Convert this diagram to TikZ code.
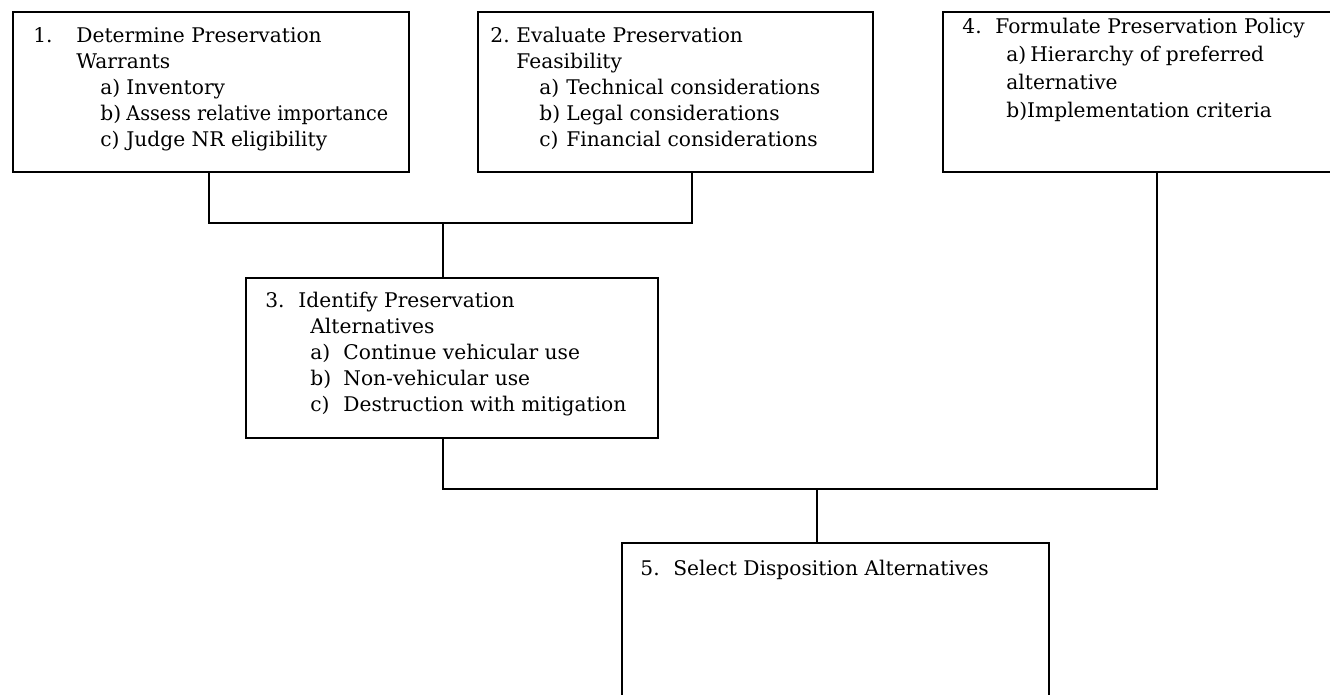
\documentclass[tikz,border=0pt]{standalone}
\usepackage{fontspec}
\setmainfont{DejaVu Serif}
\newcommand\lbl[2]{\makebox[#1][l]{#2}}
\newcommand\boxfont{\fontsize{10.1}{13}\selectfont}
\newcommand\boxfontb{\fontsize{10.1}{14}\selectfont}
\tikzset{
  box/.style={draw, line width=1pt, inner sep=0pt, anchor=north west},
  txt/.style={inner sep=0pt, anchor=base west, font=\boxfont},
  link/.style={draw, line width=1pt}
}
\begin{document}
\begin{tikzpicture}[x=0.5pt,y=-0.5pt]
\useasboundingbox (0,0) rectangle (1330,695);
% boxes
\node[box, minimum width=198pt, minimum height=80pt] (b1) at (12,11) {};
\node[box, minimum width=197.5pt, minimum height=80pt] (b2) at (477,11) {};
\node[box, minimum width=206pt, minimum height=80pt] (b3) at (245,277) {};
\node[box, minimum width=199pt, minimum height=80pt] (b4) at (942,11) {};
\node[box, minimum width=213.5pt, minimum height=86pt] (b5) at (621,542) {};
% texts
\node[txt] (t1) at (33,43) {\begin{tabular}[t]{@{}l@{}}
\lbl{21.5pt}{1.}Determine Preservation\\
\hspace*{21.5pt}Warrants\\
\hspace*{33.5pt}\lbl{13pt}{a)}Inventory\\
\hspace*{33.5pt}\lbl{13pt}{b)}\scalebox{0.95}[1]{Assess relative importance}\\
\hspace*{33.5pt}\lbl{13pt}{c)}Judge NR eligibility
\end{tabular}};
\node[txt] (t2) at (490,43) {\begin{tabular}[t]{@{}l@{}}
\lbl{13pt}{2.}Evaluate Preservation\\
\hspace*{13pt}Feasibility\\
\hspace*{24.5pt}\lbl{13.5pt}{a)}Technical considerations\\
\hspace*{24.5pt}\lbl{13.5pt}{b)}Legal considerations\\
\hspace*{24.5pt}\lbl{13.5pt}{c)}Financial considerations
\end{tabular}};
\node[txt] (t3) at (265,308) {\begin{tabular}[t]{@{}l@{}}
\lbl{16.5pt}{3.}Identify Preservation\\
\hspace*{22.5pt}Alternatives\\
\hspace*{22.5pt}\lbl{16.5pt}{a)}Continue vehicular use\\
\hspace*{22.5pt}\lbl{16.5pt}{b)}Non-vehicular use\\
\hspace*{22.5pt}\lbl{16.5pt}{c)}Destruction with mitigation
\end{tabular}};
\node[txt, font=\boxfontb] (t4) at (962,34) {\begin{tabular}[t]{@{}l@{}}
\lbl{16.5pt}{4.}Formulate Preservation Policy\\
\hspace*{22pt}\lbl{12pt}{a)}Hierarchy of preferred\\
\hspace*{22pt}alternative\\
\hspace*{22pt}b)Implementation criteria
\end{tabular}};
\node[txt] (t5) at (640,575) {\lbl{16.5pt}{5.}Select Disposition Alternatives};
% junctions
\coordinate (j1) at (443,223);
\coordinate (j2) at (817,489);
\path (b1.south west) ++(197,0) coordinate (b1o);
\path (b2.south west) ++(215,0) coordinate (b2o);
\path (b4.south west) ++(215,0) coordinate (b4o);
% connectors
\draw[link] (b1o) |- (j1) -| (b2o);
\draw[link] (j1) -- (j1 |- b3.north);
\draw[link] (j1 |- b3.south) |- (j2) -| (b4o);
\draw[link] (j2) -- (j2 |- b5.north);
\end{tikzpicture}
\end{document}
